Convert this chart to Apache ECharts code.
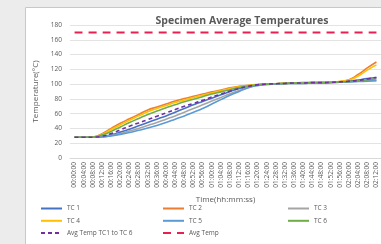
<!DOCTYPE html>
<html>
<head>
<meta charset="utf-8">
<script src="https://cdn.jsdelivr.net/npm/echarts@6/dist/echarts.min.js"></script>
<style>
  html, body { margin: 0; padding: 0; background: #ececec; }
  #chart { width: 381px; height: 244px; }
</style>
</head>
<body>
<div id="chart"></div>
<script>
// time labels (hh:mm:ss)
var times = ["00:00:00","00:04:00","00:08:00","00:12:00","00:16:00","00:20:00","00:24:00","00:28:00",
  "00:32:00","00:36:00","00:40:00","00:44:00","00:48:00","00:52:00","00:56:00","01:00:00",
  "01:04:00","01:08:00","01:12:00","01:16:00","01:20:00","01:24:00","01:28:00","01:32:00",
  "01:36:00","01:40:00","01:44:00","01:48:00","01:52:00","01:56:00","02:00:00","02:04:00",
  "02:08:00","02:12:00"];

var tc1 = [28,28,28,29,31.5,35,39,43.5,48,52.5,57,62,67,72,76.5,81,85.5,90,94,97,99,100,100.5,101,101.5,101.5,102,102,102.5,103,104,105.5,107.5,109];
var tc2 = [28,28,28.5,33,40,47,53,59,65,69,73,77,80.5,83.5,86.5,89.5,92,95,97,98.5,99.5,100,100.5,101,101.5,102,102,102.5,103,103.5,106,113,122,130];
var tc3 = [28,28,28,28.5,30.5,33,36.5,40,44,48,52.5,57,62,67,72,77,82,87,91.5,95.5,98.5,99.5,100,100.5,101,101,101.5,101.5,102,102.5,103,104,104.5,105];
var tc4 = [28,28,28.5,32,38.5,45,51,57,62.5,67,71,75,78.5,82,85,88,91,94,96.5,98,99.5,100,100.5,101,101.5,102,102,102.5,103,103.5,105.5,111,119,126];
var tc5 = [28,28,28,28.5,30,32,34.5,37.5,40.5,44,48,52.5,57,62,67,73,79,85,90,95,98,99.5,100,100.5,101,101,101.5,101.5,102,102.5,103,103.5,104,104.5];
var tc6 = [28,28,28.3,31,36,42,48,53.5,59,63.5,68,72,76,79.5,83,86.5,89.5,92.5,95.5,97.5,99,100,100.5,101,101.5,101.5,102,102,102.5,103,103.5,104.5,106,107];
var avgTc = [28,28,28.2,29.5,33,38,43,47.5,52,56.5,61,65.5,70,74,78,82.5,86.5,90.5,94,97,99,100,100.5,101,101.5,101.5,102,102,102.5,103,104,105,107,109];
var avgTemp = [170,170,170,170,170,170,170,170,170,170,170,170,170,170,170,170,170,170,170,170,170,170,170,170,170,170,170,170,170,170,170,170,170,170];

var names = ["TC 1","TC 2","TC 3","TC 4","TC 5","TC 6","Avg Temp TC1 to TC 6","Avg Temp"];
var colors = ["#4472c4","#ed7d31","#a5a5a5","#ffc000","#5b9bd5","#70ad47","#7030a0","#e8204f"];
var values = [tc1, tc2, tc3, tc4, tc5, tc6, avgTc, avgTemp];

var font = "Open Sans";
var txt = "#595959";

var myChart = echarts.init(document.getElementById("chart"));

var series = names.map(function (n, i) {
  var dashed = i >= 6;
  return {
    name: n,
    type: "line",
    data: values[i],
    smooth: true,
    symbol: "none",
    z: i === 6 ? 5 : 2,
    lineStyle: {
      color: colors[i],
      width: i === 7 ? 2 : 1.6,
      type: dashed ? (i === 7 ? [8, 6] : [4, 3]) : "solid"
    },
    itemStyle: { color: colors[i] }
  };
});

function legendCol(left, items) {
  return {
    orient: "vertical",
    left: left,
    top: 205,
    itemWidth: 21,
    itemHeight: 8,
    itemGap: 5.3,
    padding: 0,
    data: items,
    itemStyle: { opacity: 0 },
    textStyle: { fontFamily: font, fontSize: 6.5, color: txt }
  };
}

var option = {
  animation: false,
  backgroundColor: "#ececec",
  graphic: [{
    type: "rect",
    shape: { x: 25.5, y: 7.5, width: 380, height: 260 },
    style: { fill: "#ffffff", stroke: "#c8c8c8", lineWidth: 1 },
    z: -10
  }],
  title: {
    text: "Specimen Average Temperatures",
    left: 237,
    textAlign: "center",
    top: 11,
    textStyle: { fontFamily: font, fontSize: 10.5, fontWeight: "bold", color: txt }
  },
  legend: [
    legendCol(40, ["TC 1", "TC 4", "Avg Temp TC1 to TC 6"]),
    legendCol(162, ["TC 2", "TC 5", "Avg Temp"]),
    legendCol(287, ["TC 3", "TC 6"])
  ],
  grid: { left: 70, top: 25, bottom: 86, right: -14 },
  xAxis: {
    type: "category",
    data: times,
    boundaryGap: true,
    name: "Time(hh:mm:ss)",
    nameLocation: "middle",
    nameGap: 37,
    nameTextStyle: { fontFamily: font, fontSize: 8, color: txt },
    axisLine: { lineStyle: { color: "#d9d9d9" } },
    axisTick: { show: false },
    axisLabel: { rotate: 90, interval: 0, margin: 4, fontFamily: font, fontSize: 6.5, color: txt }
  },
  yAxis: {
    type: "value",
    min: 0,
    max: 180,
    interval: 20,
    name: "Temperature(°C)",
    nameLocation: "middle",
    nameRotate: 90,
    nameGap: 30,
    nameTextStyle: { fontFamily: font, fontSize: 8, color: txt },
    axisLine: { show: false },
    axisTick: { show: false },
    axisLabel: { margin: 8, fontFamily: font, fontSize: 6.5, color: txt },
    splitLine: { lineStyle: { color: "#e3e3e3", width: 1 } }
  },
  series: series
};

myChart.setOption(option);
</script>
</body>
</html>
